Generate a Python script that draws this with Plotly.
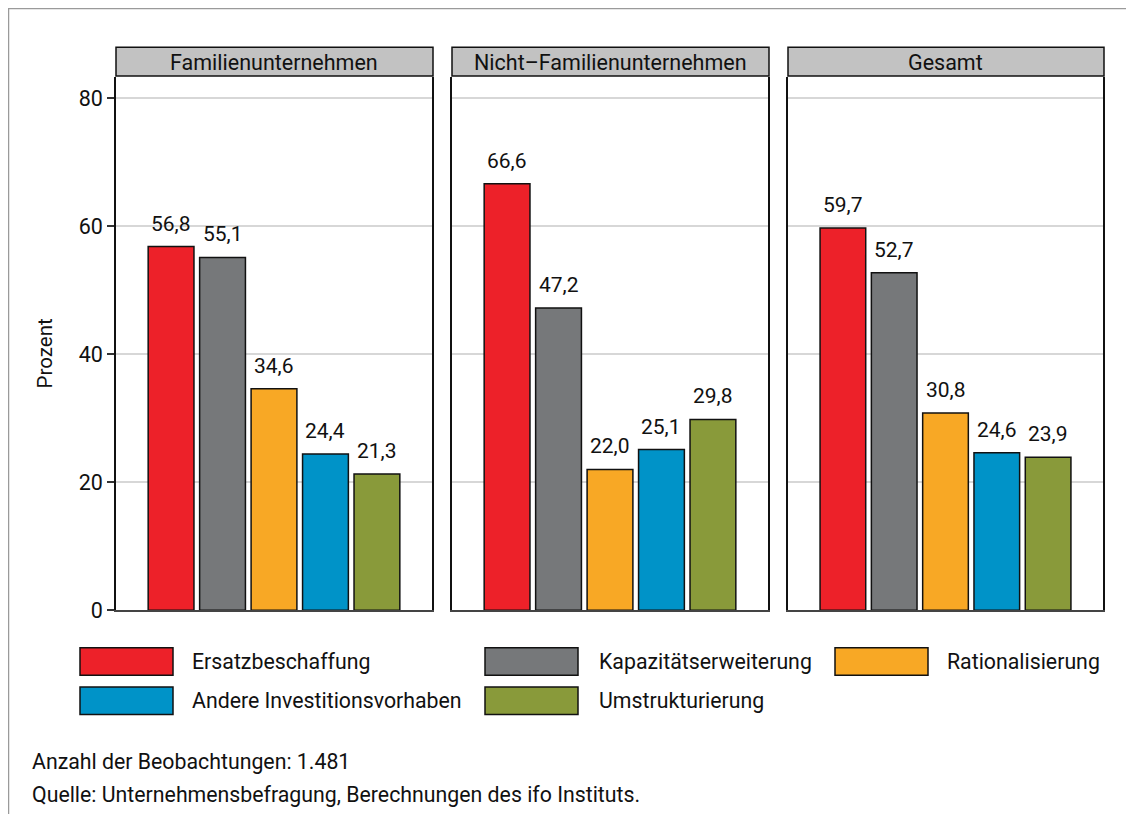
import plotly.graph_objects as go

panels = ["Familienunternehmen", "Nicht\u2013Familienunternehmen", "Gesamt"]
categories = ["Ersatzbeschaffung", "Kapazitätserweiterung", "Rationalisierung",
              "Andere Investitionsvorhaben", "Umstrukturierung"]
familien = [56.8, 55.1, 34.6, 24.4, 21.3]
nicht_familien = [66.6, 47.2, 22.0, 25.1, 29.8]
gesamt = [59.7, 52.7, 30.8, 24.6, 23.9]
colors = ["#ED2129", "#76787A", "#F8A825", "#0093C8", "#899A3A"]
y_ticks = [0, 20, 40, 60, 80]
y_title = "Prozent"
footnotes = ["Anzahl der Beobachtungen: 1.481",
             "Quelle: Unternehmensbefragung, Berechnungen des ifo Instituts."]

OFF = 8  # page body margin
W, H = 1134 - OFF, 827 - OFF
FONT = "Roboto"
def px(x): return (x - OFF) / W
def py(y): return 1 - (y - OFF) / H

fig = go.Figure()
series = [familien, nicht_familien, gesamt]
domains = [(116, 432), (452, 768), (788, 1103)]
annotations = []
for i, vals in enumerate(series):
    xa = "x" if i == 0 else f"x{i+1}"
    ya = "y" if i == 0 else f"y{i+1}"
    fig.add_trace(go.Bar(
        x=categories, y=vals, xaxis=xa, yaxis=ya,
        marker=dict(color=colors, line=dict(color="#111111", width=1.5)),
        width=0.89, showlegend=False, hoverinfo="skip"))
    for c, v in zip(categories, vals):
        annotations.append(dict(x=c, y=v, xref=xa, yref=ya,
                                text=f"{v:.1f}".replace(".", ","), showarrow=False,
                                xanchor="center", yanchor="bottom", yshift=9,
                                font=dict(family=FONT, size=21, color="#111111")))

layout = dict(width=W, height=H, margin=dict(l=0, r=0, t=0, b=0),
              plot_bgcolor="white", paper_bgcolor="white",
              font=dict(family=FONT, size=20, color="#111111"))
for i, (a, b) in enumerate(domains):
    k = "" if i == 0 else str(i + 1)
    layout["xaxis" + k] = dict(domain=[px(a), px(b)], range=[-1.07, 5.07],
                               showticklabels=False, ticks="", showgrid=False,
                               showline=True, linecolor="#444444", linewidth=2,
                               zeroline=False, fixedrange=True, anchor="y" + k)
    layout["yaxis" + k] = dict(domain=[py(620), py(78)], range=[0, 83.3],
                               tickvals=y_ticks, showticklabels=(i == 0),
                               ticks="outside" if i == 0 else "", ticklen=7,
                               tickcolor="#333333", tickwidth=1.5,
                               showgrid=True, gridcolor="#D7D7D7", gridwidth=1.5,
                               showline=True, mirror=True, linecolor="#111111",
                               linewidth=1.5, zeroline=False, anchor="x" + k,
                               tickfont=dict(family=FONT, size=21.5))
fig.update_layout(**layout)

annotations.append(dict(x=px(45), y=py(359), xref="paper", yref="paper",
                        text=y_title, textangle=-90, showarrow=False,
                        xanchor="center", yanchor="middle",
                        font=dict(family=FONT, size=20.5, color="#111111")))
shapes = []
# header strips
for (a, b), name in zip(domains, panels):
    shapes.append(dict(type="rect", xref="paper", yref="paper",
                       x0=px(a), x1=px(b + 1), y0=py(77), y1=py(48),
                       fillcolor="#C2C2C2", line=dict(color="#111111", width=1.5)))
    annotations.append(dict(x=px((a + b) / 2), y=py(63), xref="paper", yref="paper",
                            text=name, showarrow=False,
                            font=dict(family=FONT, size=21.5, color="#111111"),
                            xanchor="center", yanchor="middle"))
# outer frame (top and left)
shapes.append(dict(type="line", xref="paper", yref="paper", x0=px(8), x1=1,
                   y0=py(8.5), y1=py(8.5), line=dict(color="#9A9A9A", width=1.5)))
shapes.append(dict(type="line", xref="paper", yref="paper", x0=px(8.5), x1=px(8.5),
                   y0=py(8), y1=0, line=dict(color="#9A9A9A", width=1.5)))
# legend
legend_pos = [(80, 190, 672), (485, 597, 672), (835, 945, 672),
              (80, 190, 712), (485, 597, 712)]
for (bx, tx, cy), cat, col in zip(legend_pos, categories, colors):
    shapes.append(dict(type="rect", xref="paper", yref="paper",
                       x0=px(bx), x1=px(bx + 93), y0=py(cy + 14), y1=py(cy - 14),
                       fillcolor=col, line=dict(color="#111111", width=1.5)))
    annotations.append(dict(x=px(tx), y=py(cy), xref="paper", yref="paper",
                            text=cat, showarrow=False, xanchor="left", yanchor="middle",
                            font=dict(family=FONT, size=21.3, color="#111111")))
for j, t in enumerate(footnotes):
    annotations.append(dict(x=px(30), y=py(774 + 33 * j), xref="paper", yref="paper",
                            text=t, showarrow=False, xanchor="left", yanchor="middle",
                            font=dict(family=FONT, size=21.3, color="#111111")))
fig.update_layout(shapes=shapes, annotations=annotations)
fig.write_html("out.html")
